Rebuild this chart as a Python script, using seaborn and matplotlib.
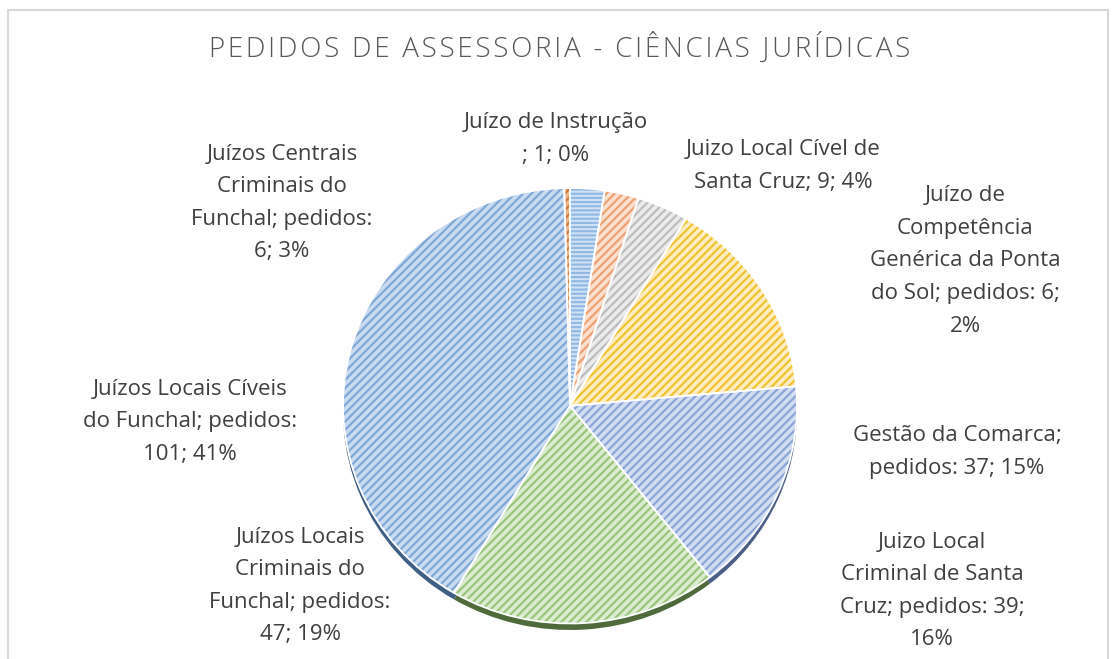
import matplotlib
matplotlib.use("Agg")
import matplotlib.pyplot as plt
import seaborn as sns
from matplotlib.patches import Rectangle

# ---------------------------------------------------------------------------
# Data (slice order: clockwise from 12 o'clock, as in the Excel chart)
# ---------------------------------------------------------------------------
TITLE = "PEDIDOS DE ASSESSORIA - CIÊNCIAS JURÍDICAS"

categories = [
    "Juízos Centrais Criminais do Funchal",
    "Juízo de Competência Genérica da Ponta do Sol",
    "Juizo Local Cível de Santa Cruz",
    "Gestão da Comarca",
    "Juizo Local Criminal de Santa Cruz",
    "Juízos Locais Criminais do Funchal",
    "Juízos Locais Cíveis do Funchal",
    "Juízo de Instrução",
]
pedidos = [6, 6, 9, 37, 39, 47, 101, 1]

label_texts = [
    "Juízos Centrais\nCriminais do\nFunchal; pedidos:\n6; 3%",
    "Juízo de\nCompetência\nGenérica da Ponta\ndo Sol; pedidos: 6;\n2%",
    "Juizo Local Cível de\nSanta Cruz; 9; 4%",
    "Gestão da Comarca;\npedidos: 37; 15%",
    "Juizo Local\nCriminal de Santa\nCruz; pedidos: 39;\n16%",
    "Juízos Locais\nCriminais do\nFunchal; pedidos:\n47; 19%",
    "Juízos Locais Cíveis\ndo Funchal; pedidos:\n101; 41%",
    "Juízo de Instrução\n; 1; 0%",
]

# ---------------------------------------------------------------------------
# Styling
# ---------------------------------------------------------------------------
face_cols  = ["#d2e3f5", "#fae0cf", "#ebebeb", "#fdedc0", "#d2ddf1", "#dcecd0", "#c8dbf1", "#eeb48c"]
hatch_cols = ["#92b9e3", "#eea173", "#bdbdbd", "#f1c232", "#8ca6d8", "#9ac67c", "#80a8d6", "#d0763a"]
rim_cols   = ["#5d7fa3", "#a0603a", "#7a7a7a", "#a8861f", "#4c5f86", "#4f6b3c", "#3f5f85", "#8a4a20"]
hatches    = ["----", "////", "////", "////", "////", "////", "////", "////"]

label_px = [(282, 203), (965, 261), (783, 166), (957, 452),
            (932, 591), (300, 586), (190, 422), (556, 139)]

W, H = 1117, 659

sns.set_theme(style="white")
plt.rcParams["font.family"] = ["Open Sans", "DejaVu Sans"]
plt.rcParams["hatch.linewidth"] = 1.6

fig = plt.figure(figsize=(W / 100, H / 100), dpi=100)
fig.patch.set_facecolor("white")

# chart border
fig.add_artist(Rectangle((8 / W, -0.05), 1100 / W, 1 - 10 / H + 0.05,
                         transform=fig.transFigure, fill=False,
                         edgecolor="#d9d9d9", linewidth=1.5))

# pie axes (slightly squashed vertically to mimic the 3D tilt)
ax_l, ax_r, ax_t, ax_b = 343, 797, 188, 630
ax = fig.add_axes([ax_l / W, 1 - ax_b / H, (ax_r - ax_l) / W, (ax_b - ax_t) / H])

# thickness / rim
ax.pie(pedidos, colors=rim_cols, startangle=90, counterclock=False,
       center=(0, -0.03), wedgeprops=dict(linewidth=0))

# hatched top face
wedges, _ = ax.pie(pedidos, colors=face_cols, startangle=90, counterclock=False,
                   hatch=hatches, wedgeprops=dict(linewidth=0))
for w, hc in zip(wedges, hatch_cols):
    w.set_edgecolor(hc)
    w.set_linewidth(0)

# white separators
ax.pie(pedidos, colors=["none"] * len(pedidos), startangle=90, counterclock=False,
       wedgeprops=dict(linewidth=1.3, edgecolor="white", fill=False))

ax.set_aspect("auto")
ax.set_xlim(-1, 1)
ax.set_ylim(-1.03, 1)
ax.axis("off")

# title, letter-spaced
spaced = "\u200a".join(TITLE)
fig.text(560 / W, 1 - 48 / H, spaced, ha="center", va="center",
         fontsize=20, color="#595959", fontweight="light")

# data labels
for txt, (x, y) in zip(label_texts, label_px):
    fig.text(x / W, 1 - y / H, txt, ha="center", va="center",
             fontsize=16, color="#404040", linespacing=1.72)

fig.savefig("out.png", dpi=100, facecolor="white")
